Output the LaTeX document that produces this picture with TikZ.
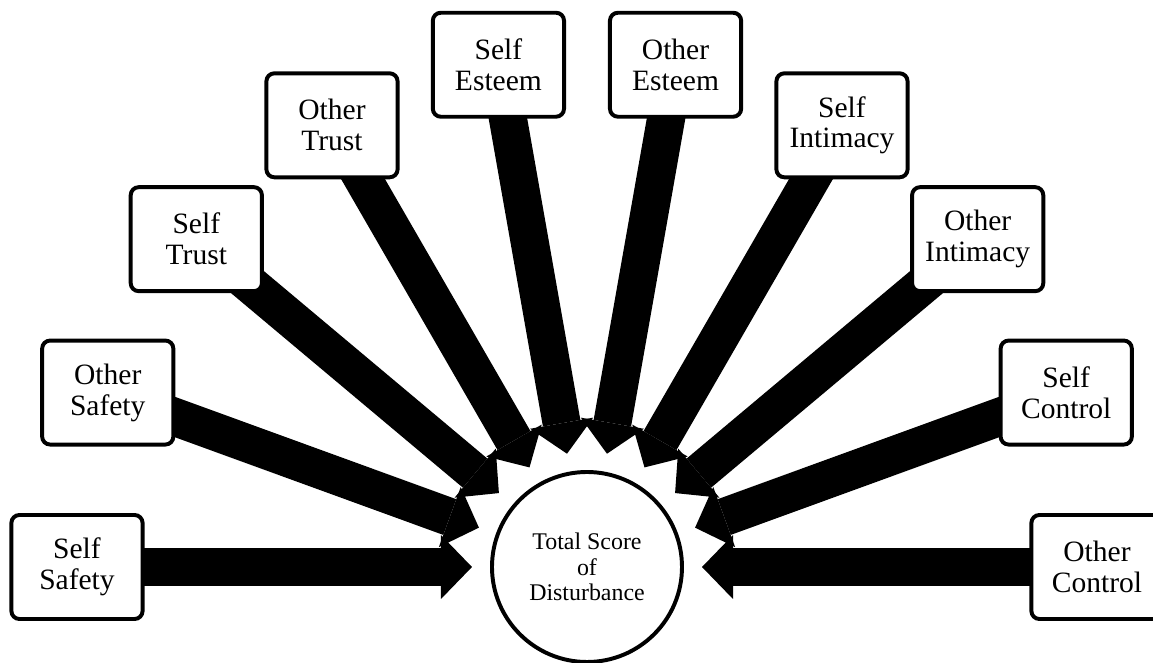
\documentclass[tikz,border=0pt]{standalone}
\usepackage{fontspec}
\setmainfont{Liberation Serif}
\usetikzlibrary{arrows.meta, backgrounds}
\tikzstyle{box} = [draw, rectangle, rounded corners=2mm, line width=2.8pt, fill=white, minimum width=3.28cm, minimum height=2.6cm, align=center, inner sep=0pt, font=\fontsize{21}{22}\selectfont]
\tikzstyle{hub} = [draw, circle, line width=2.8pt, fill=white, minimum size=4.75cm, align=center, inner sep=0pt, font=\fontsize{17}{18}\selectfont]
\tikzstyle{spoke} = [-{Triangle[length=7.75mm, width=16mm, line width=0pt]}, line width=9.5mm, shorten >=28.75mm]

\begin{document}
\begin{tikzpicture}[x=0.25mm, y=0.25mm]
    \useasboundingbox (-587,-96) rectangle (566,567);
    \node (total) [hub] at (0,0) {Total Score\\of\\Disturbance};
    \node (ssafety) [box] at (180:510) {Self\\Safety};
    \node (osafety) [box] at (160:510) {Other\\Safety};
    \node (strust) [box] at (140:510) {Self\\Trust};
    \node (otrust) [box] at (120:510) {Other\\Trust};
    \node (sesteem) [box] at (100:510) {Self\\Esteem};
    \node (oesteem) [box] at (80:510) {Other\\Esteem};
    \node (sintimacy) [box] at (60:510) {Self\\Intimacy};
    \node (ointimacy) [box] at (40:510) {Other\\Intimacy};
    \node (scontrol) [box] at (20:510) {Self\\Control};
    \node (ocontrol) [box] at (0:510) {Other\\Control};

    % Arrows.
    \begin{scope}[on background layer]
        \foreach \n in {ssafety, osafety, strust, otrust, sesteem, oesteem, sintimacy, ointimacy, scontrol, ocontrol} {
            \draw [spoke] (\n.center) -- (total.center);
        }
    \end{scope}
\end{tikzpicture}
\end{document}
